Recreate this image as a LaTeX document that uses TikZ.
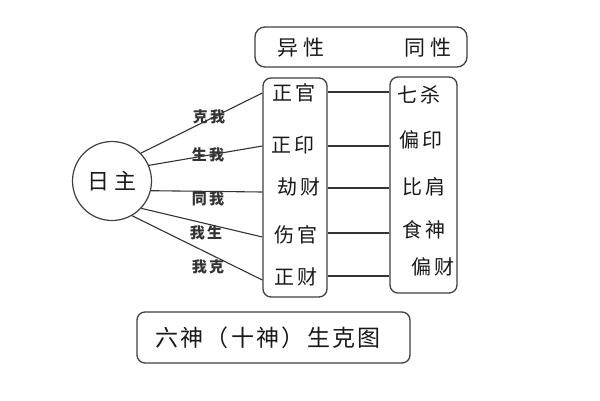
\documentclass[tikz,border=0pt]{standalone}
\usepackage{fontspec}
\newfontfamily\cjk{Noto Sans CJK SC}
\tikzset{
  ln/.style={draw=black!80, line width=1.1pt},
  bx/.style={draw=black!75, line width=1.3pt, rounded corners=8pt},
  item/.style={inner sep=0pt, text=black!90, font=\cjk\fontsize{20}{22}\selectfont\addfontfeature{LetterSpace=12}},
  lab/.style={inner sep=0pt, text=black!80, font=\cjk\bfseries\fontsize{15}{16}\selectfont\addfontfeature{LetterSpace=15}},
  hdr/.style={inner sep=0pt, text=black!90, font=\cjk\fontsize{21}{23}\selectfont\addfontfeature{LetterSpace=20}},
}
\begin{document}
\begin{tikzpicture}[x=1pt,y=-1pt]
\useasboundingbox[fill=white] (0,0) rectangle (600,400);
% boxes
\draw[bx, rounded corners=10pt] (255,27) rectangle (467,67);
\node[hdr] (yx) at (301,48) {异性};
\node[hdr] (tx) at (428,48) {同性};
\node[bx, minimum width=64pt, minimum height=219pt, inner sep=0pt] (L) at (295,187.5) {};
\node[bx, minimum width=67pt, minimum height=216pt, inner sep=0pt] (R) at (423.5,185) {};
% circle
\node[circle, draw=black!75, line width=1.2pt, minimum size=79pt, inner sep=0pt,
      text=black!90, font=\cjk\fontsize{22}{24}\selectfont\addfontfeature{LetterSpace=20}] (sun) at (112,181) {日主};
% left items
\node[item] (zg) at (294,93) {正官};
\node[item] (zy) at (293,145) {正印};
\node[item] (jc) at (299,187) {劫财};
\node[item] (sg) at (296,235) {伤官};
\node[item] (zc) at (296,277) {正财};
% right items
\node[item] (qs) at (419,95) {七杀};
\node[item] (py) at (421,140) {偏印};
\node[item] (bj) at (424,187) {比肩};
\node[item] (ss) at (424,230) {食神};
\node[item] (pc) at (433,267) {偏财};
% horizontal connectors
\draw[ln] (L.east |- 0,92) -- (R.west |- 0,92);
\draw[ln] (L.east |- 0,146) -- (R.west |- 0,146);
\draw[ln] (L.east |- 0,188) -- (R.west |- 0,188);
\draw[ln] (L.east |- 0,233) -- (R.west |- 0,233);
\draw[ln] (L.east |- 0,276) -- (R.west |- 0,276);
% spokes
\draw[ln] (sun.44) -- (L.west |- 0,93);
\draw[ln] (sun.23) -- (L.west |- 0,146);
\draw[ln] (sun.-14) -- (L.west |- 0,192);
\draw[ln] (sun.-43) -- (L.west |- 0,237);
\draw[ln] (sun.-60) -- (L.west |- 0,280);
\node[lab] (k1) at (209,117) {克我};
\node[lab] (k2) at (208,155) {生我};
\node[lab] (k3) at (208,199) {同我};
\node[lab] (k4) at (206,233) {我生};
\node[lab] (k5) at (208,267) {我克};
% title
\node[bx, minimum width=273pt, minimum height=51pt, inner sep=0pt] (T) at (273.5,337.5) {};
\node[inner sep=0pt, text=black!90, font=\cjk\fontsize{23}{25}\selectfont\addfontfeature{LetterSpace=10}] (tt) at (268,338) {六神（十神）生克图};
\end{tikzpicture}
\end{document}
